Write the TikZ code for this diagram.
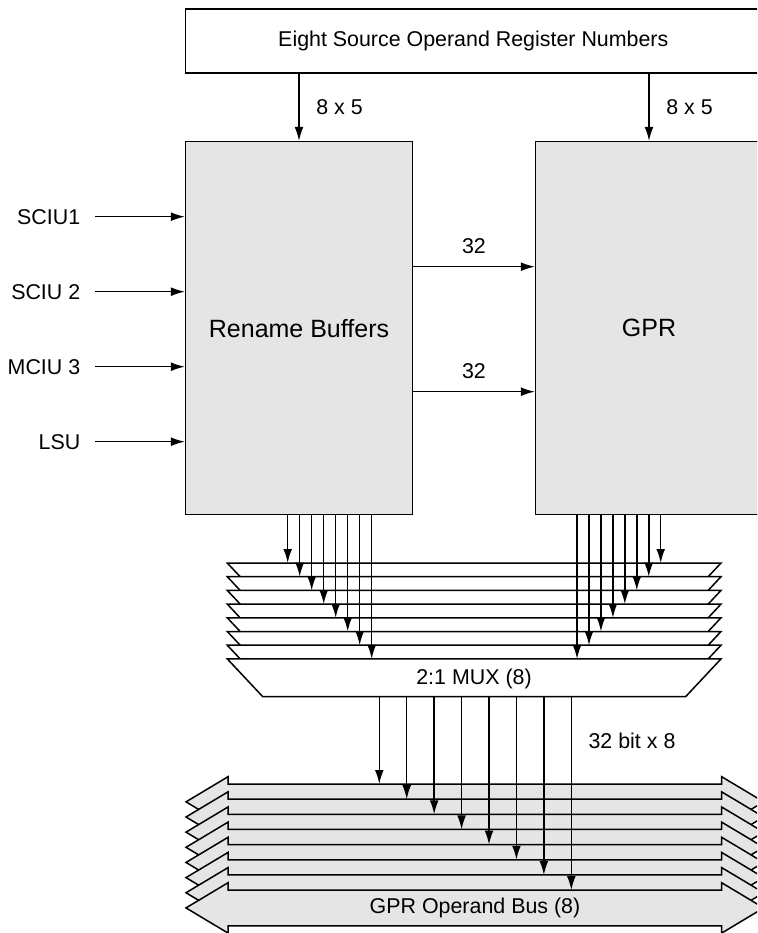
\documentclass[tikz,border=0pt]{standalone}
\usepackage{fontspec}
\setmainfont{Liberation Sans}
\usetikzlibrary{arrows.meta, positioning}

\begin{document}
\begin{tikzpicture}[x=0.5pt, y=-0.5pt, line width=0.75pt, >={Latex[length=7pt, width=4.4pt]},
    lbl/.style={inner sep=0pt, font=\fontsize{10.7}{12.5}\selectfont},
    unitbox/.style={draw, fill=gray!20, minimum width=113.3pt, minimum height=186.5pt, inner sep=0pt, font=\fontsize{12.5}{15}\selectfont},
    muxlayer/.style={draw, fill=white},
    buslayer/.style={draw, fill=gray!20}]
    \useasboundingbox (0,0) rectangle (757,933);
    \clip (0,0) rectangle (757,933);

    \node[draw, lbl, minimum width=288pt, minimum height=32pt] (srcregs) at (473.3,41) {Eight Source Operand Register Numbers};
    \node[unitbox] (rb) at (299,328.2) {Rename Buffers};
    \node[unitbox] (gpr) at (649,328.2) {GPR};

    \draw[->] (srcregs.south -| rb.north) -- (rb.north) node[lbl, midway, right=8.3pt] {8 x 5};
    \draw[->] (srcregs.south -| gpr.north) -- (gpr.north) node[lbl, midway, right=8.3pt] {8 x 5};

    \foreach \name/\txt/\y in {sciu1/SCIU1/216.7, sciu2/SCIU 2/291.7, mciu3/MCIU 3/366.7, lsu/LSU/441.7} {
        \node[lbl, anchor=east] (\name) at (81,\y) {\txt};
        \draw[->, shorten <=7pt] (\name.east) -- (\name.east -| rb.west);
    }

    \draw[->] ([yshift=30.75pt]rb.east) -- ([yshift=30.75pt]gpr.west) node[lbl, midway, above=6pt] {32};
    \draw[->] ([yshift=-31.75pt]rb.east) -- ([yshift=-31.75pt]gpr.west) node[lbl, midway, above=6pt] {32};

    \foreach \j in {1,...,8} {
        \pgfmathsetmacro\ty{563+13.7*(\j-1)}
        \draw[muxlayer] (227.3,\ty) -- (721,\ty) -- (685.7,\ty+37.7) -- (262.7,\ty+37.7) -- cycle;
        \coordinate (mux\j) at (474,\ty);
    }
    \coordinate (muxout) at (474,696.6);
    \node[lbl] (mux) at (474,679) {2:1 MUX (8)};

    \foreach \k in {1,...,8} {
        \pgfmathsetmacro\xa{275.7+12*\k}
        \pgfmathsetmacro\xb{672.65-11.95*\k}
        \draw[->] (rb.south -| \xa,0) -- (mux\k -| \xa,0);
        \draw[->] (gpr.south -| \xb,0) -- (mux\k -| \xb,0);
    }

    \foreach \j in {1,...,8} {
        \pgfmathsetmacro\by{784+15.15*(\j-1)}
        \draw[buslayer] (186,\by+17.85) -- (228,\by-7.3) -- (228,\by) -- (721.7,\by) -- (721.7,\by-7.3) -- (763.7,\by+17.85)
            -- (721.7,\by+43) -- (721.7,\by+35.7) -- (228,\by+35.7) -- (228,\by+43) -- cycle;
        \coordinate (bus\j) at (475,\by);
    }
    \node[lbl] (gprbus) at (475,908) {GPR Operand Bus (8)};

    \foreach \k in {1,...,8} {
        \pgfmathsetmacro\xc{351.87+27.43*\k}
        \draw[->] (muxout -| \xc,0) -- (bus\k -| \xc,0);
    }
    \node[lbl] (busw) at (632,741) {32 bit x 8};
\end{tikzpicture}
\end{document}
